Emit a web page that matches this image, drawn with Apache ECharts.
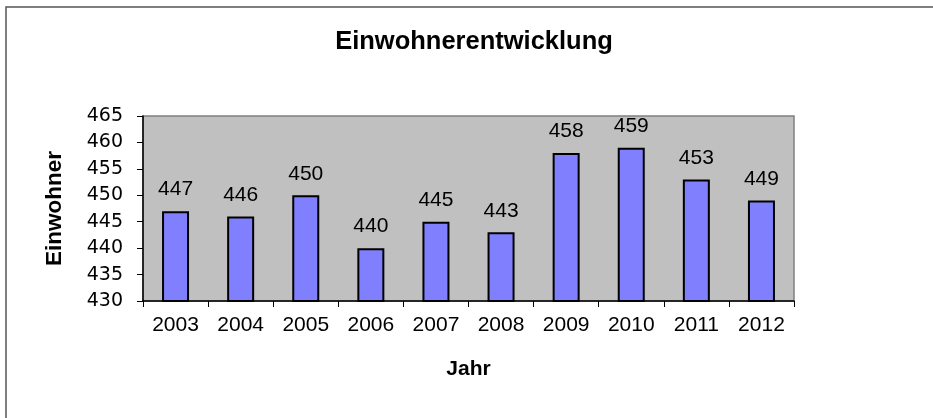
<!DOCTYPE html>
<html>
<head>
<meta charset="utf-8">
<script src="https://cdn.jsdelivr.net/npm/echarts@6/dist/echarts.min.js"></script>
<style>html,body{margin:0;padding:0;background:#fff}#c{width:933px;height:418px}</style>
</head>
<body>
<div id="c"></div>
<script>
const years = ['2003','2004','2005','2006','2007','2008','2009','2010','2011','2012'];
const einwohner = [447, 446, 450, 440, 445, 443, 458, 459, 453, 449];
const titleText = 'Einwohnerentwicklung';
const xName = 'Jahr';
const yName = 'Einwohner';
const yMin = 430, yMax = 465, yStep = 5;

const FONT = '"Liberation Sans", Arial, sans-serif';
const chart = echarts.init(document.getElementById('c'), null, {renderer: 'canvas'});
chart.setOption({
  animation: false,
  backgroundColor: '#ffffff',
  graphic: [{
    type: 'rect', z: 100,
    shape: {x: 6, y: 7, width: 960, height: 440},
    style: {fill: 'none', stroke: '#555555', lineWidth: 1.5}
  }],
  title: {
    text: titleText, left: 469, textAlign: 'center', top: 24,
    textStyle: {fontFamily: FONT, fontWeight: 'bold', fontSize: 25.5, color: '#000'}
  },
  grid: {
    left: 143, right: 139, top: 116, bottom: 117,
    show: true, backgroundColor: '#C0C0C0', borderColor: '#808080', borderWidth: 1.5
  },
  xAxis: {
    type: 'category', data: years, boundaryGap: true,
    name: xName, nameLocation: 'middle', nameGap: 58,
    nameTextStyle: {fontFamily: FONT, fontWeight: 'bold', fontSize: 21, color: '#000'},
    axisLine: {lineStyle: {color: '#000', width: 1.5}},
    axisTick: {show: true, length: 6, alignWithLabel: false, lineStyle: {color: '#000'}},
    axisLabel: {fontFamily: FONT, fontSize: 21, color: '#000', margin: 14, interval: 0}
  },
  yAxis: {
    type: 'value', min: yMin, max: yMax, interval: yStep,
    name: yName, nameLocation: 'middle', nameGap: 77, nameRotate: 90,
    nameTextStyle: {fontFamily: FONT, fontWeight: 'bold', fontSize: 22.5, color: '#000'},
    axisLine: {show: true, lineStyle: {color: '#000', width: 1.5}},
    axisTick: {show: true, length: 6, lineStyle: {color: '#000'}},
    axisLabel: {fontFamily: '"DejaVu Sans", sans-serif', fontSize: 19, color: '#000', margin: 20},
    splitLine: {show: false}
  },
  series: [{
    type: 'bar', data: einwohner, barWidth: 27,
    itemStyle: {color: '#8080FF', borderColor: '#000', borderWidth: 2},
    label: {show: true, position: 'top', distance: 11, fontFamily: FONT, fontSize: 21, color: '#000'}
  }]
});
</script>
</body>
</html>
